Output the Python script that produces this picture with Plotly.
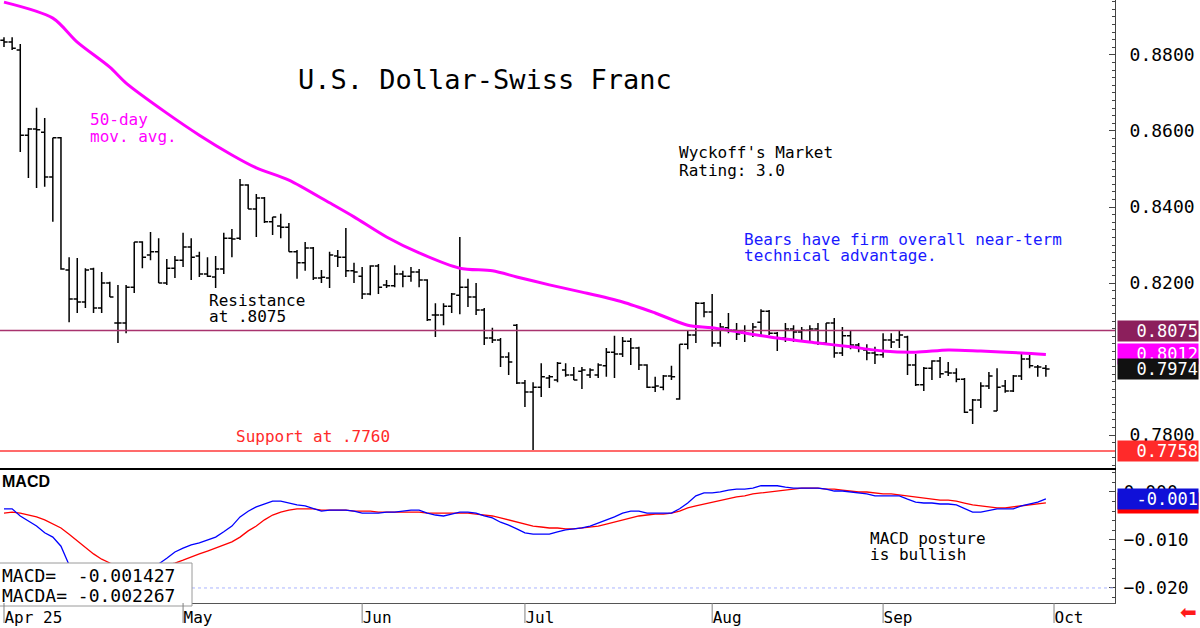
import pandas as pd
import plotly.graph_objects as go

# ---------------- data ----------------
holidays = ["2025-06-19", "2025-09-01"]
trading_days = [d.strftime("%Y-%m-%d") for d in pd.bdate_range("2025-04-01", "2025-10-10")
                if d.strftime("%Y-%m-%d") not in holidays]

opens = [0.8839,0.8834,0.8813,0.8589,0.8605,0.8597,0.8479,0.8582,0.8234,0.8158,
         0.8150,0.8237,0.8134,0.8200,0.8095,0.8095,0.8189,0.8308,0.8274,0.8282,
         0.8200,0.8239,0.8260,0.8295,0.8271,0.8224,0.8216,0.8237,0.8318,0.8318,
         0.8458,0.8395,0.8424,0.8361,0.8350,0.8347,0.8282,0.8253,0.8292,0.8213,
         0.8213,0.8271,0.8268,0.8232,0.8218,0.8171,0.8245,0.8195,0.8193,0.8224,
         0.8218,0.8229,0.8208,0.8116,0.8116,0.8139,0.8168,0.8189,0.8163,0.8129,
         0.8055,0.8050,0.8005,0.8089,0.7937,0.7913,0.7926,0.7950,0.7945,0.7971,
         0.7958,0.7968,0.7958,0.7958,0.7982,0.8018,0.8013,0.8047,0.8029,0.7984,
         0.7926,0.7926,0.7955,0.7895,0.8039,0.8063,0.8147,0.8124,0.8042,0.8082,
         0.8076,0.8068,0.8066,0.8097,0.8126,0.8068,0.8055,0.8079,0.8071,0.8076,
         0.8079,0.8042,0.8095,0.8016,0.8061,0.8037,0.8024,0.8016,0.8011,0.8050,
         0.8050,0.8058,0.7984,0.7932,0.7976,0.7995,0.7966,0.7963,0.7947,0.7866,
         0.7892,0.7929,0.7863,0.7929,0.7916,0.7955,0.8000,0.7979,0.7976]
highs = [0.8847,0.8847,0.8829,0.8608,0.8661,0.8634,0.8582,0.8584,0.8268,0.8266,
         0.8239,0.8240,0.8229,0.8203,0.8195,0.8195,0.8308,0.8310,0.8334,0.8318,
         0.8263,0.8271,0.8332,0.8318,0.8282,0.8268,0.8271,0.8332,0.8342,0.8474,
         0.8460,0.8434,0.8426,0.8374,0.8382,0.8358,0.8287,0.8308,0.8295,0.8234,
         0.8282,0.8287,0.8345,0.8253,0.8242,0.8247,0.8250,0.8208,0.8247,0.8232,
         0.8242,0.8237,0.8210,0.8147,0.8147,0.8174,0.8321,0.8211,0.8200,0.8134,
         0.8082,0.8055,0.8018,0.8092,0.7945,0.7939,0.7989,0.7958,0.7992,0.7989,
         0.7979,0.7979,0.7976,0.7989,0.8029,0.8061,0.8058,0.8055,0.8032,0.7986,
         0.7953,0.7958,0.7982,0.8039,0.8076,0.8150,0.8150,0.8171,0.8095,0.8121,
         0.8095,0.8089,0.8095,0.8131,0.8129,0.8071,0.8095,0.8089,0.8084,0.8089,
         0.8095,0.8095,0.8108,0.8084,0.8074,0.8042,0.8039,0.8032,0.8068,0.8068,
         0.8074,0.8061,0.8013,0.7979,0.7997,0.8005,0.7992,0.7976,0.7950,0.7895,
         0.7939,0.7966,0.7976,0.7945,0.7958,0.8016,0.8011,0.7984,0.7984]
lows = [0.8821,0.8813,0.8545,0.8476,0.8450,0.8453,0.8361,0.8235,0.8097,0.8121,
        0.8134,0.8121,0.8121,0.8163,0.8042,0.8068,0.8174,0.8239,0.8260,0.8200,
        0.8195,0.8213,0.8242,0.8208,0.8216,0.8216,0.8187,0.8224,0.8268,0.8313,
        0.8395,0.8321,0.8358,0.8326,0.8318,0.8282,0.8211,0.8232,0.8208,0.8200,
        0.8187,0.8242,0.8216,0.8200,0.8158,0.8168,0.8171,0.8187,0.8189,0.8189,
        0.8203,0.8189,0.8100,0.8058,0.8089,0.8121,0.8118,0.8137,0.8116,0.8037,
        0.8042,0.7979,0.7958,0.7934,0.7874,0.7757,0.7900,0.7924,0.7939,0.7953,
        0.7945,0.7921,0.7950,0.7950,0.7953,0.7950,0.8005,0.7984,0.7971,0.7924,
        0.7913,0.7918,0.7945,0.7893,0.8026,0.8042,0.8110,0.8032,0.8032,0.8068,
        0.8050,0.8045,0.8058,0.8058,0.8063,0.8021,0.8045,0.8045,0.8045,0.8045,
        0.8037,0.8037,0.8003,0.8008,0.8026,0.8018,0.7997,0.7987,0.8003,0.8029,
        0.8029,0.7958,0.7929,0.7916,0.7945,0.7950,0.7955,0.7939,0.7858,0.7829,
        0.7871,0.7921,0.7863,0.7911,0.7913,0.7945,0.7976,0.7953,0.7953]
closes = [0.8834,0.8818,0.8589,0.8605,0.8603,0.8479,0.8582,0.8237,0.8158,0.8150,
          0.8234,0.8134,0.8200,0.8163,0.8095,0.8189,0.8308,0.8268,0.8282,0.8200,
          0.8239,0.8260,0.8295,0.8268,0.8224,0.8218,0.8237,0.8318,0.8316,0.8458,
          0.8395,0.8424,0.8361,0.8374,0.8347,0.8282,0.8253,0.8292,0.8213,0.8215,
          0.8274,0.8268,0.8232,0.8229,0.8171,0.8245,0.8189,0.8193,0.8224,0.8218,
          0.8229,0.8208,0.8103,0.8116,0.8139,0.8171,0.8189,0.8163,0.8129,0.8055,
          0.8050,0.8005,0.7992,0.7937,0.7913,0.7926,0.7953,0.7953,0.7989,0.7958,
          0.7945,0.7971,0.7971,0.7984,0.8018,0.8013,0.8047,0.8029,0.7984,0.7926,
          0.7929,0.7955,0.7953,0.8039,0.8063,0.8147,0.8124,0.8042,0.8084,0.8076,
          0.8066,0.8068,0.8084,0.8126,0.8068,0.8055,0.8079,0.8071,0.8076,0.8079,
          0.8042,0.8095,0.8016,0.8061,0.8037,0.8029,0.8016,0.8011,0.8050,0.8045,
          0.8063,0.7984,0.7932,0.7976,0.7995,0.7961,0.7963,0.7947,0.7860,0.7892,
          0.7929,0.7955,0.7926,0.7916,0.7955,0.8000,0.7982,0.7979,0.7974]

ma_dates = ["2025-04-01","2025-04-09","2025-04-14","2025-04-18","2025-04-22","2025-04-29",
            "2025-05-05","2025-05-09","2025-05-14","2025-05-20","2025-05-27","2025-05-30",
            "2025-06-05","2025-06-11","2025-06-18","2025-06-25","2025-06-30","2025-07-04",
            "2025-07-10","2025-07-17","2025-07-23","2025-07-29","2025-08-01","2025-08-13",
            "2025-08-20","2025-08-26","2025-09-02","2025-09-08","2025-09-12","2025-09-18",
            "2025-09-25","2025-09-30"]
ma_values = [0.8939,0.8897,0.8834,0.8768,0.8726,0.8647,0.8589,0.8537,0.8503,0.8471,
             0.8411,0.8374,0.8321,0.8279,0.8239,0.8232,0.8216,0.8195,0.8176,0.8150,
             0.8121,0.8089,0.8082,0.8055,0.8042,0.8032,0.8021,0.8018,0.8024,0.8021,
             0.8016,0.8012]

macd = [-0.0035,-0.0035,-0.0050,-0.0060,-0.0071,-0.0085,-0.0094,-0.0113,-0.0152,-0.0171,
        -0.0183,-0.0192,-0.0196,-0.0194,-0.0190,-0.0183,-0.0175,-0.0167,-0.0158,-0.0150,
        -0.0138,-0.0125,-0.0117,-0.0110,-0.0106,-0.0100,-0.0094,-0.0083,-0.0071,-0.0052,
        -0.0040,-0.0031,-0.0025,-0.0019,-0.0019,-0.0023,-0.0027,-0.0029,-0.0035,-0.0040,
        -0.0038,-0.0038,-0.0038,-0.0040,-0.0044,-0.0044,-0.0044,-0.0042,-0.0042,-0.0040,
        -0.0038,-0.0038,-0.0044,-0.0048,-0.0050,-0.0046,-0.0042,-0.0042,-0.0044,-0.0050,
        -0.0054,-0.0063,-0.0069,-0.0077,-0.0085,-0.0088,-0.0088,-0.0088,-0.0083,-0.0079,
        -0.0077,-0.0075,-0.0071,-0.0065,-0.0058,-0.0052,-0.0044,-0.0040,-0.0040,-0.0044,
        -0.0044,-0.0044,-0.0044,-0.0035,-0.0023,-0.0008,-0.0002,-0.0002,0.0000,0.0004,
        0.0006,0.0006,0.0008,0.0013,0.0013,0.0013,0.0010,0.0008,0.0008,0.0008,
        0.0008,0.0006,0.0002,0.0002,0.0000,-0.0002,-0.0004,-0.0008,-0.0008,-0.0008,
        -0.0008,-0.0015,-0.0021,-0.0023,-0.0023,-0.0025,-0.0025,-0.0027,-0.0035,-0.0042,
        -0.0042,-0.0038,-0.0035,-0.0035,-0.0035,-0.0029,-0.0025,-0.0021,-0.001427]
macd_signal = [-0.0044,-0.0042,-0.0044,-0.0048,-0.0052,-0.0058,-0.0067,-0.0075,-0.0088,-0.0102,
               -0.0117,-0.0129,-0.0140,-0.0148,-0.0154,-0.0158,-0.0160,-0.0160,-0.0158,-0.0156,
               -0.0152,-0.0148,-0.0142,-0.0135,-0.0129,-0.0123,-0.0117,-0.0110,-0.0104,-0.0094,
               -0.0081,-0.0071,-0.0058,-0.0048,-0.0042,-0.0038,-0.0035,-0.0035,-0.0035,-0.0038,
               -0.0038,-0.0038,-0.0038,-0.0040,-0.0040,-0.0040,-0.0042,-0.0042,-0.0042,-0.0042,
               -0.0042,-0.0042,-0.0044,-0.0044,-0.0044,-0.0044,-0.0044,-0.0044,-0.0046,-0.0048,
               -0.0050,-0.0054,-0.0058,-0.0063,-0.0067,-0.0071,-0.0073,-0.0075,-0.0075,-0.0077,
               -0.0077,-0.0075,-0.0073,-0.0071,-0.0067,-0.0063,-0.0058,-0.0054,-0.0050,-0.0048,
               -0.0046,-0.0046,-0.0044,-0.0040,-0.0033,-0.0029,-0.0025,-0.0021,-0.0017,-0.0013,
               -0.0010,-0.0008,-0.0004,-0.0002,0.0000,0.0002,0.0004,0.0006,0.0008,0.0008,
               0.0008,0.0006,0.0006,0.0004,0.0002,0.0000,0.0000,-0.0002,-0.0004,-0.0004,
               -0.0006,-0.0008,-0.0010,-0.0013,-0.0015,-0.0017,-0.0017,-0.0019,-0.0023,-0.0027,
               -0.0029,-0.0031,-0.0033,-0.0033,-0.0031,-0.0029,-0.0027,-0.0025,-0.002267]

month_labels = ["Apr 25", "May", "Jun", "Jul", "Aug", "Sep", "Oct"]
resistance_level = 0.8075
support_level = 0.7758
ma_last = 0.8012
last_close = 0.7974
macd_last = -0.001427
macda_last = -0.002267
main_ticks = [0.78, 0.82, 0.84, 0.86, 0.88]
macd_ticks = [0.0, -0.01, -0.02]

# ---------------- positions on a trading-day axis ----------------
pos = {d: i for i, d in enumerate(trading_days)}
dates = trading_days[:len(closes)]
bar_x = [pos[d] for d in dates]
ma_x = [pos[d] for d in ma_dates]
month_x = []
seen = set()
for d in trading_days:
    m = d[:7]
    if m not in seen:
        seen.add(m)
        month_x.append(pos[d])
month_x = month_x[:len(month_labels)]

# ---------------- geometry helpers ----------------
W, H = 1200, 628
ML, MR, MT, MB = 0, 85, 0, 25
PW, PH = W - ML - MR, H - MT - MB
def xp(px):
    return (px - ML) / PW
def yp(py):
    return (PH - (py - MT)) / PH

MONO = "DejaVu Sans Mono"
XR = [-0.49, 136.49]

fig = go.Figure()
fig.add_trace(go.Ohlc(
    x=bar_x, open=opens, high=highs, low=lows, close=closes,
    increasing=dict(line=dict(color="black", width=1.5)),
    decreasing=dict(line=dict(color="black", width=1.5)),
    tickwidth=0.45, xaxis="x", yaxis="y", showlegend=False, hoverinfo="skip"))
fig.add_trace(go.Scatter(
    x=ma_x, y=ma_values, mode="lines", line=dict(color="#ff00ff", width=3, shape="spline", smoothing=0.8),
    xaxis="x", yaxis="y", showlegend=False, hoverinfo="skip"))
fig.add_trace(go.Scatter(
    x=bar_x, y=macd_signal, mode="lines", line=dict(color="#ff0000", width=1.3),
    xaxis="x2", yaxis="y2", showlegend=False, hoverinfo="skip"))
fig.add_trace(go.Scatter(
    x=bar_x, y=macd, mode="lines", line=dict(color="#0000ff", width=1.3),
    xaxis="x2", yaxis="y2", showlegend=False, hoverinfo="skip"))

shapes = [
    dict(type="line", xref="paper", x0=0, x1=1, yref="y", y0=resistance_level, y1=resistance_level,
         line=dict(color="#a8336e", width=1.3)),
    dict(type="line", xref="paper", x0=0, x1=1, yref="y", y0=support_level, y1=support_level,
         line=dict(color="#ff6b6b", width=2)),
    dict(type="line", xref="paper", x0=0, x1=1, yref="y2", y0=-0.02, y1=-0.02,
         line=dict(color="#aab4ff", width=1, dash="dot")),
    dict(type="rect", xref="paper", x0=-0.002, x1=xp(192), yref="paper", y0=yp(606), y1=yp(563),
         fillcolor="white", line=dict(color="#9a9a9a", width=1), layer="above"),
]
for mx in month_x:
    shapes.append(dict(type="line", xref="x2", x0=mx, x1=mx, yref="paper", y0=0, y1=yp(623),
                       line=dict(color="#808080", width=1)))

def txt(text, px, py, color="black", size=16, family=MONO, xanchor="left"):
    return dict(text=text, xref="paper", yref="paper", x=xp(px), y=yp(py), xanchor=xanchor,
                yanchor="middle", showarrow=False, font=dict(family=family, size=size, color=color))

nb = "\u00a0"
annotations = [
    txt("U.S." + nb + "Dollar-Swiss" + nb + "Franc", 296, 80, size=27),
    txt("50-day", 88, 120, color="#ff00ff"),
    txt("mov." + nb + "avg.", 88, 137, color="#ff00ff"),
    txt("Wyckoff's" + nb + "Market", 677, 153),
    txt("Rating:" + nb + "3.0", 677, 170),
    txt("Bears have firm overall near-term".replace(" ", nb), 742, 240, color="#1a1aff"),
    txt("technical advantage.".replace(" ", nb), 742, 256, color="#1a1aff"),
    txt("Resistance", 207, 300),
    txt("at" + nb + ".8075", 207, 317),
    txt("Support at .7760".replace(" ", nb), 234, 437, color="#ff2a2a"),
    txt("MACD" + nb + "posture", 868, 538),
    txt("is" + nb + "bullish", 868, 554),
    txt("<b>MACD</b>", 0, 481, size=16, family="Liberation Sans"),
    txt("MACD=" + nb * 2 + "%.6f" % macd_last, 0, 575, size=18),
    txt("MACDA=" + nb + "%.6f" % macda_last, 0, 595, size=18),
    txt("\u2b05", 1188, 612, color="#ff1a1a", size=20, family="DejaVu Sans", xanchor="center"),
]

def box(value, yref, bg, fmt):
    return dict(text=fmt % value if fmt else nb, xref="paper", x=xp(1117), xanchor="left", yref=yref, y=value,
                yanchor="middle", showarrow=False, width=80, height=20, align="right", bgcolor=bg,
                borderpad=0, font=dict(family=MONO, size=17, color="white"))

annotations += [
    box(resistance_level, "y", "#8c1f5c", "%.4f"),
    box(ma_last, "y", "#ff00ff", "%.4f"),
    box(last_close, "y", "#111111", "%.4f"),
    box(support_level, "y", "#ff2a2a", "%.4f"),
    box(macda_last, "y2", "#ff0000", None),
    box(macd_last, "y2", "#1010d8", "%.3f"),
]

axis_common = dict(showgrid=False, zeroline=False, fixedrange=True)
fig.update_layout(
    width=W, height=H, margin=dict(l=ML, r=MR, t=MT, b=MB),
    paper_bgcolor="white", plot_bgcolor="white", showlegend=False, hovermode=False,
    xaxis=dict(domain=[0, 1], anchor="y", range=XR, showticklabels=False, ticks="",
               showline=True, linecolor="black", linewidth=2, rangeslider=dict(visible=False), **axis_common),
    yaxis=dict(domain=[yp(468), 1], anchor="x", side="right", range=[0.77132, 0.89447],
               tickmode="array", tickvals=main_ticks, tickformat=".4f",
               ticks="inside", ticklen=6, tickcolor="#444", showline=True, linecolor="#444", linewidth=1,
               ticklabelstandoff=10,
               tickfont=dict(family=MONO, size=18, color="black"),
               minor=dict(ticks="inside", tickmode="linear", tick0=0, dtick=0.002, ticklen=3, tickcolor="#444"),
               **axis_common),
    xaxis2=dict(domain=[0, 1], anchor="y2", range=XR, tickmode="array", tickvals=month_x, ticktext=month_labels,
                ticks="", ticklabelposition="outside right", showline=True, linecolor="#555", linewidth=1,
                tickfont=dict(family=MONO, size=16, color="black"), **axis_common),
    yaxis2=dict(domain=[0, yp(470)], anchor="x2", side="right", range=[-0.02313, 0.00458],
                tickmode="array", tickvals=macd_ticks, tickformat=".3f",
                ticks="inside", ticklen=6, tickcolor="#444", showline=True, linecolor="#444", linewidth=1,
                ticklabelstandoff=4,
                tickfont=dict(family=MONO, size=18, color="black"),
                minor=dict(ticks="inside", tickmode="linear", tick0=0, dtick=0.002, ticklen=3, tickcolor="#444"),
                **axis_common),
    shapes=shapes, annotations=annotations,
)

fig.write_html("out.html", config={"displayModeBar": False, "staticPlot": True})
